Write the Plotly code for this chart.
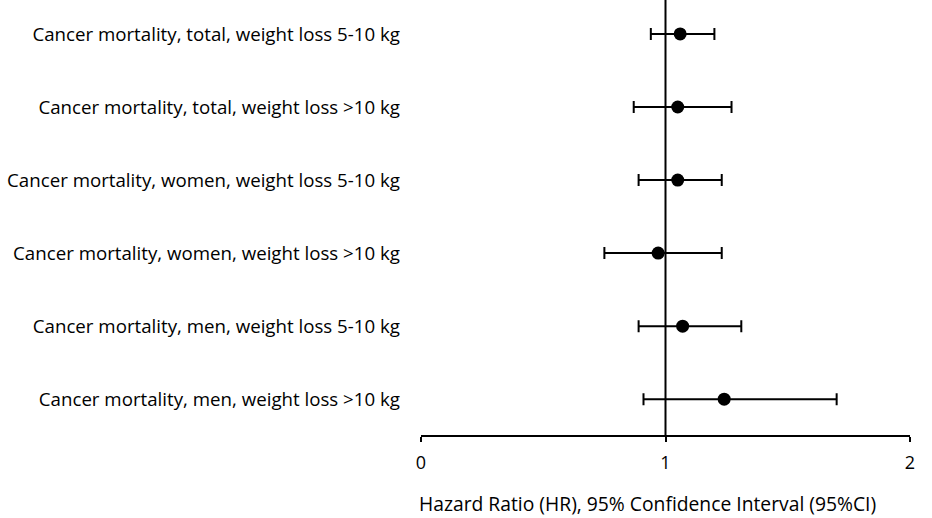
import plotly.graph_objects as go

labels = [
    "Cancer mortality, total, weight loss 5-10 kg",
    "Cancer mortality, total, weight loss >10 kg",
    "Cancer mortality, women, weight loss 5-10 kg",
    "Cancer mortality, women, weight loss >10 kg",
    "Cancer mortality, men, weight loss 5-10 kg",
    "Cancer mortality, men, weight loss >10 kg",
]
hr = [1.06, 1.05, 1.05, 0.97, 1.07, 1.24]
ci_low = [0.94, 0.87, 0.89, 0.75, 0.89, 0.91]
ci_high = [1.20, 1.27, 1.23, 1.23, 1.31, 1.70]
x_ticks = [0, 1, 2]

pos = list(range(1, len(labels) + 1))
err_plus = [h - m for h, m in zip(ci_high, hr)]
err_minus = [m - l for m, l in zip(hr, ci_low)]

FONT = "Open Sans"
FS = 18.7

fig = go.Figure()
fig.add_trace(go.Scatter(
    x=hr, y=pos, mode="markers",
    marker=dict(color="black", size=13, symbol="circle"),
    error_x=dict(type="data", symmetric=False, array=err_plus, arrayminus=err_minus,
                 color="black", thickness=2, width=6),
    showlegend=False, cliponaxis=False,
))

fig.add_shape(type="line", x0=1, x1=1, xref="x", y0=0, y1=1, yref="paper",
              line=dict(color="black", width=2), layer="below")

fig.add_annotation(text="Hazard Ratio (HR), 95% Confidence Interval (95%CI)",
                   xref="paper", yref="paper", x=-0.008, y=-0.157,
                   xanchor="left", yanchor="middle", showarrow=False,
                   font=dict(family=FONT, size=19.3, color="black"))

fig.update_layout(
    width=932, height=518,
    margin=dict(l=421, r=22, t=0, b=83),
    plot_bgcolor="white", paper_bgcolor="white",
    font=dict(family=FONT, size=FS, color="black"),
    xaxis=dict(range=[0, 2], tickvals=x_ticks, ticktext=[str(v) for v in x_ticks],
               showgrid=False, zeroline=False, showline=True, linecolor="black",
               linewidth=2, ticks="outside", ticklen=5, tickwidth=2, tickcolor="black",
               ticklabelstandoff=5,
               tickfont=dict(family=FONT, size=18, color="black")),
    yaxis=dict(range=[6.49, 0.535], tickvals=pos, ticktext=labels,
               showgrid=False, zeroline=False, showline=False, ticks="",
               ticklabelstandoff=20,
               tickfont=dict(family=FONT, size=FS, color="black")),
)

fig.write_html("out.html", config={"displayModeBar": False},
               post_script="document.body.style.margin='0';")
